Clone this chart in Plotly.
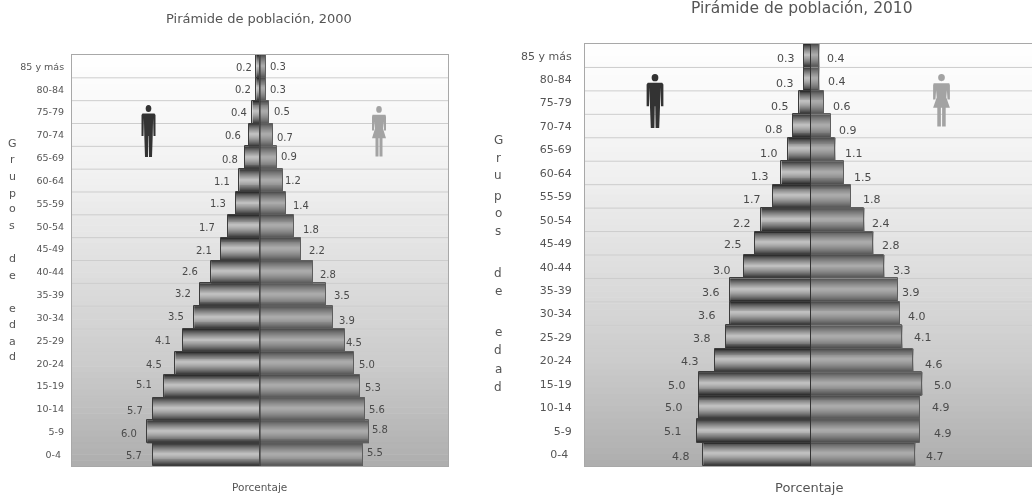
import numpy as np
import plotly.graph_objects as go

W, H = 1032, 500

age_groups = ["85 y más", "80-84", "75-79", "70-74", "65-69", "60-64", "55-59", "50-54", "45-49",
              "40-44", "35-39", "30-34", "25-29", "20-24", "15-19", "10-14", "5-9", "0-4\u00a0"]

men_2000 = [0.2, 0.2, 0.4, 0.6, 0.8, 1.1, 1.3, 1.7, 2.1, 2.6, 3.2, 3.5, 4.1, 4.5, 5.1, 5.7, 6.0, 5.7]
women_2000 = [0.3, 0.3, 0.5, 0.7, 0.9, 1.2, 1.4, 1.8, 2.2, 2.8, 3.5, 3.9, 4.5, 5.0, 5.3, 5.6, 5.8, 5.5]
men_2010 = [0.3, 0.3, 0.5, 0.8, 1.0, 1.3, 1.7, 2.2, 2.5, 3.0, 3.6, 3.6, 3.8, 4.3, 5.0, 5.0, 5.1, 4.8]
women_2010 = [0.4, 0.4, 0.6, 0.9, 1.1, 1.5, 1.8, 2.4, 2.8, 3.3, 3.9, 4.0, 4.1, 4.6, 5.0, 4.9, 4.9, 4.7]

# label nudges in pixels relative to the bar end and row centre
men_2000_dx = [-12, -13, -13, -16, -15, -17, -18, -21, -17, -21, -17, -18, -20, -21, -20, -18, -18, -19]
men_2000_dy = [.6, .3, .5, .6, 1.3, .5, .1, .8, 1, -.9, -1.7, -.8, -.4, .8, -1.3, 1.8, 1.3, 1.4]
women_2000_dx = [12, 12, 12.6, 12, 12, 10.5, 14.7, 17, 15.6, 15, 16, 13.4, 9.4, 13, 13.4, 11.7, 11, 11.6]
women_2000_dy = [-.4, .1, -1, 2.8, -1, -.5, 1.6, 2.8, 1, 2.1, .3, 2.5, 1.6, .8, 1, .1, -2.7, -1.6]
men_2010_dx = [-17.7, -18.7, -19.2, -18.2, -18.7, -21.7, -20.8, -19.3, -21.7, -21.1, -19.4, -23.4, -23.7, -24.8, -21.9, -24.9, -23.7, -22.4]
men_2010_dy = [3, 4.1, 3.4, 3, 3.5, 3.8, 2.9, 3.9, 1.7, 3.3, 2.2, 2.1, 1.3, 1.2, 1.4, 0, .9, 1.8]
women_2010_dx = [16.4, 17.4, 18, 17.2, 18.5, 18.5, 21.5, 17.1, 17.6, 17.7, 13, 16.8, 20.9, 20.7, 20.8, 21, 23, 19.8]
women_2010_dy = [3, 2.8, 4.1, 4, 3.5, 4.1, 3.6, 3.9, 2.7, 3.3, 1.9, 2.4, .5, 3.5, 1.8, .2, 2.2, 1.8]

axis_letters = ["G", "r", "u", "p", "o", "s", "d", "e", "e", "d", "a", "d"]
letters_y_2000 = [143, 159, 176, 193, 209, 226, 258, 275, 308, 324, 341, 356.5]
letters_y_2010 = [140, 158, 175, 196, 213, 231, 272.7, 291, 331.7, 350, 369, 386.7]

FONT = "DejaVu Sans"
TXT = "#555555"
N = 24


def px(x):
    return x / W


def py(y):
    return 1 - y / H


def strip_values(edge_top, mid, edge_bottom):
    out = []
    for k in range(N):
        t = (k + 0.5) / N
        if t < 0.45:
            f = (t / 0.45) ** 0.75
            v = edge_top + (mid - edge_top) * f
        else:
            f = ((t - 0.45) / 0.55) ** 1.4
            v = mid + (edge_bottom - mid) * f
        out.append([round(v)])
    return out


MEN_STRIPS = strip_values(30, 194, 40)
WOMEN_STRIPS = strip_values(70, 172, 78)
GRAY = [[0, "rgb(0,0,0)"], [1, "rgb(255,255,255)"]]
STRIP_EDGES = [-0.5 + k / N for k in range(N + 1)]

fig = go.Figure()
shapes = []
annotations = []


def bg_gray(t):
    return int(np.interp(t, [0, 0.3, 0.5, 0.75, 1], [255, 241, 225, 204, 174]))


def add_icon(cx, top, h, wscale, color, female):
    s = h / 52
    X = lambda u: px(cx + u * wscale)
    Y = lambda v: py(top + v * s)
    shapes.append(dict(type="circle", xref="paper", yref="paper", x0=X(-2.8), x1=X(2.8), y0=Y(0), y1=Y(7),
                       fillcolor=color, line=dict(width=0), layer="above"))
    if female:
        pts = [(-6.5, 9), (6.5, 9), (7, 11), (7, 25), (5, 25), (4.5, 16), (4, 23), (7, 33), (3.5, 33), (3.5, 51.5),
               (.5, 51.5), (.5, 33), (-.5, 33), (-.5, 51.5), (-3.5, 51.5), (-3.5, 33), (-7, 33), (-4, 23),
               (-4.5, 16), (-5, 25), (-7, 25), (-7, 11)]
    else:
        pts = [(-6, 8.5), (6, 8.5), (7, 10), (7, 31), (5, 31), (4.6, 13), (4.2, 31), (3.5, 52), (.5, 52), (.2, 31),
               (-.2, 31), (-.5, 52), (-3.5, 52), (-4.2, 31), (-4.6, 13), (-5, 31), (-7, 31), (-7, 10)]
    path = "M " + " L ".join(f"{X(a):.5f},{Y(b):.5f}" for a, b in pts) + " Z"
    shapes.append(dict(type="path", xref="paper", yref="paper", path=path, fillcolor=color,
                       line=dict(width=0), layer="above"))


def add_panel(suffix, men, women, men_dx, men_dy, women_dx, women_dy, left, right, top, bottom, xrange,
              title, title_y, title_x, title_size, tick_size, standoff, label_size, letter_x, letter_y, letter_size,
              xlabel_x, xlabel_size, icons, yaxis_mirror):
    xa, ya = "x" + suffix, "y" + suffix
    rows = list(range(len(age_groups)))
    for values, sign, strips in ((men, -1, MEN_STRIPS), (women, 1, WOMEN_STRIPS)):
        for r, v in zip(rows, values):
            fig.add_trace(go.Heatmap(x=[sign * v, 0] if sign < 0 else [0, v],
                                     y=[r + e for e in STRIP_EDGES], z=strips, zmin=0, zmax=255,
                                     colorscale=GRAY, showscale=False, hoverinfo="skip",
                                     xaxis=xa, yaxis=ya))
    for values, sign, line in ((men, -1, "#3c3c3c"), (women, 1, "#5e5e5e")):
        fig.add_trace(go.Bar(x=[sign * v for v in values], y=rows, orientation="h", width=1.0,
                             marker=dict(color="rgba(0,0,0,0)", line=dict(color=line, width=1)),
                             xaxis=xa, yaxis=ya, showlegend=False, hoverinfo="skip"))

    axis_x = dict(domain=[px(left), min(px(right), 1)], range=xrange, showgrid=False, zeroline=False,
                  showticklabels=False, ticks="", showline=True, linecolor="#a8a8a8", linewidth=1, mirror=True,
                  anchor=ya)
    axis_y = dict(domain=[py(bottom), py(top)], range=[17.5, -0.5], tickmode="array", tickvals=rows,
                  ticktext=age_groups, showgrid=False, zeroline=False, ticks="", ticklabelstandoff=standoff,
                  tickfont=dict(family=FONT, size=tick_size, color=TXT), showline=True, linecolor="#a8a8a8",
                  linewidth=1, mirror=yaxis_mirror, anchor=xa)
    fig.update_layout({"xaxis" + suffix: axis_x, "yaxis" + suffix: axis_y})

    # background gradient
    M = 70
    for i in range(M):
        t = (i + 0.5) / M
        g = bg_gray(t)
        shapes.append(dict(type="rect", xref="paper", yref="paper", layer="below",
                           x0=px(left), x1=min(px(right), 1),
                           y0=py(top + (bottom - top) * i / M), y1=py(top + (bottom - top) * (i + 1.1) / M),
                           fillcolor=f"rgb({g},{g},{g})", line=dict(width=0)))
    # row separators: fixed light grey, vanishing once the background gets darker than it
    for i in range(17):
        g = min(bg_gray((i + 1) / 18), 205)
        shapes.append(dict(type="line", xref=xa + " domain", yref=ya, x0=0, x1=1, y0=i + 0.5, y1=i + 0.5, layer="below",
                           line=dict(color=f"rgb({g},{g},{g})", width=1)))
    # centre line
    shapes.append(dict(type="line", xref=xa, yref=ya + " domain", x0=0, x1=0, y0=0, y1=1, layer="above",
                       line=dict(color="#333333", width=1)))

    # value labels
    for i, (v, dx, dy) in enumerate(zip(men, men_dx, men_dy)):
        annotations.append(dict(xref=xa, yref=ya, x=-v, y=i, xshift=dx, yshift=-dy, text=f"{v:.1f}", showarrow=False,
                                xanchor="center", yanchor="middle",
                                font=dict(family=FONT, size=label_size, color="#4a4a4a")))
    for i, (v, dx, dy) in enumerate(zip(women, women_dx, women_dy)):
        annotations.append(dict(xref=xa, yref=ya, x=v, y=i, xshift=dx, yshift=-dy, text=f"{v:.1f}", showarrow=False,
                                xanchor="center", yanchor="middle",
                                font=dict(family=FONT, size=label_size, color="#4a4a4a")))

    # titles
    annotations.append(dict(xref="paper", yref="paper", x=px(title_x), y=py(title_y), text=title, showarrow=False,
                            xanchor="center", yanchor="middle", font=dict(family=FONT, size=title_size, color=TXT)))
    annotations.append(dict(xref="paper", yref="paper", x=px(xlabel_x), y=py(487), text="Porcentaje", showarrow=False,
                            xanchor="center", yanchor="middle", font=dict(family=FONT, size=xlabel_size, color=TXT)))
    for ch, ly in zip(axis_letters, letter_y):
        annotations.append(dict(xref="paper", yref="paper", x=px(letter_x), y=py(ly), text=ch, showarrow=False,
                                xanchor="center", yanchor="middle", font=dict(family=FONT, size=letter_size, color=TXT)))
    for ic in icons:
        add_icon(*ic)


add_panel("", men_2000, women_2000, men_2000_dx, men_2000_dy, women_2000_dx, women_2000_dy,
          72, 448, 55, 466, [-10, 10], "Pirámide de población, 2000", 18, 259, 13, 9.5, 5, 10,
          12, letters_y_2000, 11, 259.5, 10.5,
          [(148.5, 105, 52, 1.0, "#333333", False), (379, 106, 51, 1.0, "#a3a3a3", True)], True)
add_panel("2", men_2010, women_2010, men_2010_dx, men_2010_dy, women_2010_dx, women_2010_dy,
          585, 1032, 44, 466, [-10.1, 9.92], "Pirámide de población, 2010", 8, 802, 15.5, 11, 10, 11,
          498, letters_y_2010, 12, 809, 13,
          [(655, 74, 54, 1.2, "#333333", False), (941.5, 74, 53, 1.2, "#a3a3a3", True)], False)

fig.update_layout(width=W, height=H, margin=dict(l=0, r=0, t=0, b=0), paper_bgcolor="white", plot_bgcolor="rgba(0,0,0,0)",
                  barmode="overlay", bargap=0, shapes=shapes, annotations=annotations, showlegend=False,
                  font=dict(family=FONT, color=TXT))

fig.write_html("out.html", config={"displayModeBar": False},
               post_script="document.body.style.margin='0';document.documentElement.style.overflow='hidden';"
                           "document.querySelector('.plotly-graph-div').style.filter='blur(0.5px)';")
